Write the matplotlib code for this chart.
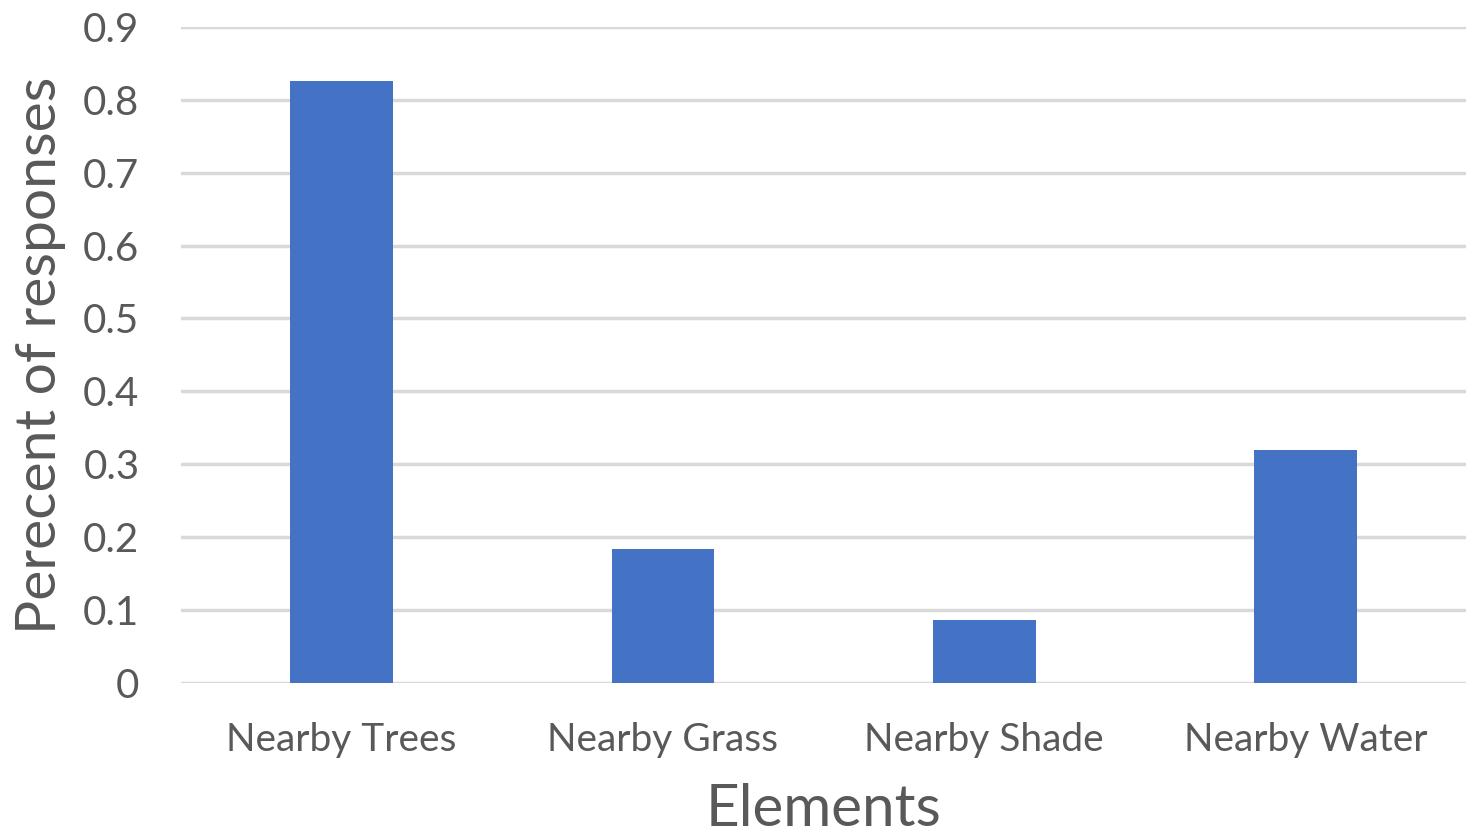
import numpy as np
import matplotlib.pyplot as plt

# -- survey shares per element
elements = ["Nearby Trees", "Nearby Grass", "Nearby Shade", "Nearby Water"]
share    = [0.826, 0.184, 0.086, 0.320]
yticks   = [0, 0.1, 0.2, 0.3, 0.4, 0.5, 0.6, 0.7, 0.8, 0.9]
ylabels  = ["0", "0.1", "0.2", "0.3", "0.4", "0.5", "0.6", "0.7", "0.8", "0.9"]

plt.rcParams['font.family'] = ['Lato', 'DejaVu Sans']
txt = "#595959"

fig = plt.figure(figsize=(14.66, 8.38), dpi=100)
ax = fig.add_axes([0.1235, 0.185, 0.8765, 0.783])

xx = np.arange(len(elements))
ax.bar(xx, share, width=0.32, color="#4472C4", zorder=3)

ax.set_xlim(-0.5, len(elements) - 0.5)
ax.set_ylim(0, 0.9)
ax.set_yticks(yticks)
ax.set_yticklabels(ylabels)
ax.set_xticks(xx)
ax.set_xticklabels(elements)

ax.grid(axis="y", color="#D9D9D9", linewidth=2.5, zorder=0)
for s in ax.spines.values():
    s.set_visible(False)
ax.tick_params(axis="x", length=0, labelsize=28, colors=txt, pad=28)
ax.tick_params(axis="y", length=0, labelsize=29, colors=txt, pad=30)

ax.set_xlabel("Elements", fontsize=42, color=txt, labelpad=18)
ax.set_ylabel("Perecent of responses", fontsize=41, color=txt, labelpad=12)

fig.savefig("out.png", dpi=100)
